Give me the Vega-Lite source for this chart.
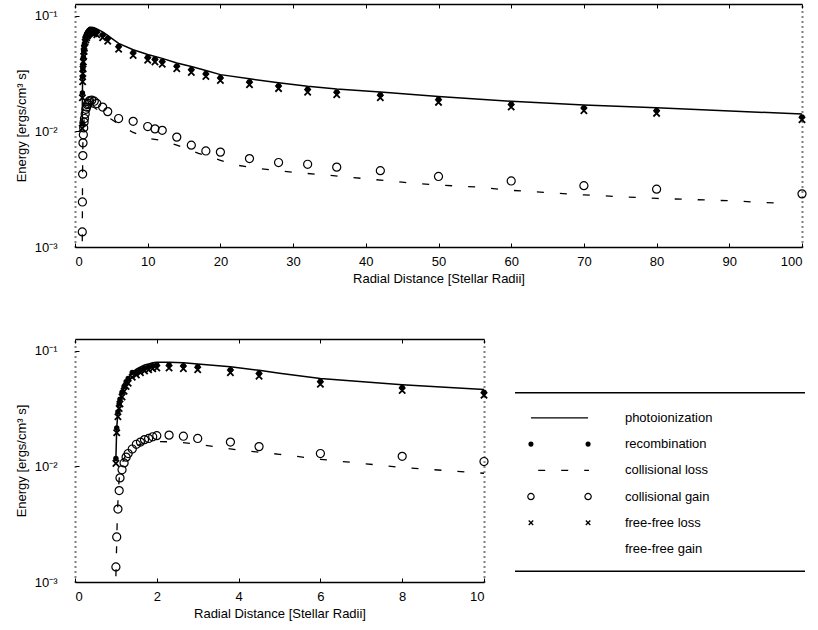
{
  "$schema": "https://vega.github.io/schema/vega-lite/v6.json",
  "background": "white",
  "padding": {"left": 15, "top": 3, "right": 5, "bottom": 5},
  "config": {
    "font": "Liberation Sans",
    "view": {"stroke": null},
    "axis": {"labelFontSize": 13, "titleFontSize": 13, "titleFontWeight": "normal", "labelColor": "black", "titleColor": "black", "domainColor": "black", "tickColor": "black", "grid": false, "labelFont": "Liberation Sans", "titleFont": "Liberation Sans"}
  },
  "datasets": {
    "photo": [
      {"r": 1.0, "e": 0.0117}, {"r": 1.02, "e": 0.0214}, {"r": 1.05, "e": 0.0295}, {"r": 1.08, "e": 0.0347},
      {"r": 1.1, "e": 0.038}, {"r": 1.15, "e": 0.0437}, {"r": 1.2, "e": 0.049}, {"r": 1.25, "e": 0.0537},
      {"r": 1.3, "e": 0.0575}, {"r": 1.4, "e": 0.0646}, {"r": 1.5, "e": 0.0692}, {"r": 1.6, "e": 0.0724},
      {"r": 1.7, "e": 0.075}, {"r": 1.8, "e": 0.0767}, {"r": 1.9, "e": 0.0785}, {"r": 2.0, "e": 0.0794},
      {"r": 2.3, "e": 0.0794}, {"r": 2.65, "e": 0.0785}, {"r": 3.0, "e": 0.0767}, {"r": 3.8, "e": 0.0724},
      {"r": 4.5, "e": 0.0676}, {"r": 5, "e": 0.0638}, {"r": 6, "e": 0.0575}, {"r": 8, "e": 0.0507},
      {"r": 10, "e": 0.0462}, {"r": 12, "e": 0.0427}, {"r": 14, "e": 0.0389}, {"r": 16, "e": 0.0363},
      {"r": 18, "e": 0.0335}, {"r": 20, "e": 0.0309}, {"r": 24, "e": 0.0284}, {"r": 28, "e": 0.0263},
      {"r": 32, "e": 0.0245}, {"r": 36, "e": 0.0232}, {"r": 42, "e": 0.0219}, {"r": 50, "e": 0.02},
      {"r": 60, "e": 0.0182}, {"r": 70, "e": 0.0169}, {"r": 80, "e": 0.016}, {"r": 100, "e": 0.0141}
    ],
    "closs": [
      {"r": 1.0, "e": 0.00112}, {"r": 1.03, "e": 0.00316}, {"r": 1.06, "e": 0.00631}, {"r": 1.1, "e": 0.00933},
      {"r": 1.2, "e": 0.0117}, {"r": 1.3, "e": 0.0135}, {"r": 1.5, "e": 0.0151}, {"r": 1.7, "e": 0.0158},
      {"r": 2.0, "e": 0.0164}, {"r": 2.5, "e": 0.0162}, {"r": 3.0, "e": 0.0155}, {"r": 4.0, "e": 0.0138},
      {"r": 5.0, "e": 0.0127}, {"r": 6.0, "e": 0.0115}, {"r": 7.0, "e": 0.0106}, {"r": 8.0, "e": 0.00977},
      {"r": 10, "e": 0.00871}, {"r": 12, "e": 0.00832}, {"r": 14, "e": 0.00759}, {"r": 17, "e": 0.00646},
      {"r": 20, "e": 0.00562}, {"r": 22, "e": 0.00513}, {"r": 25, "e": 0.00479}, {"r": 30, "e": 0.00442},
      {"r": 35, "e": 0.00417}, {"r": 40, "e": 0.00389}, {"r": 45, "e": 0.00363}, {"r": 50, "e": 0.00343},
      {"r": 55, "e": 0.00331}, {"r": 60, "e": 0.00309}, {"r": 70, "e": 0.00282}, {"r": 80, "e": 0.00263},
      {"r": 90, "e": 0.00251}, {"r": 98, "e": 0.00237}
    ],
    "markers": [
      {"r": 1.0, "recomb": 0.0117, "ffloss": 0.0106, "gain": 0.00135},
      {"r": 1.02, "recomb": 0.0214, "ffloss": 0.0195, "gain": 0.00245},
      {"r": 1.05, "recomb": 0.0295, "ffloss": 0.0268, "gain": 0.00427},
      {"r": 1.08, "recomb": 0.0347, "ffloss": 0.0316, "gain": 0.00617},
      {"r": 1.1, "recomb": 0.038, "ffloss": 0.0346, "gain": 0.00794},
      {"r": 1.15, "recomb": 0.0437, "ffloss": 0.0398, "gain": 0.00933},
      {"r": 1.2, "recomb": 0.049, "ffloss": 0.0446, "gain": 0.0107},
      {"r": 1.25, "recomb": 0.0537, "ffloss": 0.0489, "gain": 0.012},
      {"r": 1.3, "recomb": 0.0575, "ffloss": 0.0523, "gain": 0.0129},
      {"r": 1.4, "recomb": 0.0646, "ffloss": 0.0588, "gain": 0.0141},
      {"r": 1.5, "recomb": 0.0653, "ffloss": 0.0617, "gain": 0.0155},
      {"r": 1.6, "recomb": 0.0683, "ffloss": 0.0645, "gain": 0.0162},
      {"r": 1.7, "recomb": 0.0708, "ffloss": 0.0668, "gain": 0.017},
      {"r": 1.8, "recomb": 0.0724, "ffloss": 0.0683, "gain": 0.0174},
      {"r": 1.9, "recomb": 0.0741, "ffloss": 0.0699, "gain": 0.018},
      {"r": 2.0, "recomb": 0.075, "ffloss": 0.0707, "gain": 0.0184},
      {"r": 2.3, "recomb": 0.075, "ffloss": 0.0707, "gain": 0.0186},
      {"r": 2.65, "recomb": 0.0741, "ffloss": 0.0699, "gain": 0.0182},
      {"r": 3.0, "recomb": 0.0724, "ffloss": 0.0683, "gain": 0.0174},
      {"r": 3.8, "recomb": 0.0683, "ffloss": 0.0645, "gain": 0.0162},
      {"r": 4.5, "recomb": 0.0638, "ffloss": 0.0602, "gain": 0.0148},
      {"r": 6, "recomb": 0.0543, "ffloss": 0.0512, "gain": 0.0129},
      {"r": 8, "recomb": 0.0479, "ffloss": 0.0452, "gain": 0.0122},
      {"r": 10, "recomb": 0.0436, "ffloss": 0.0412, "gain": 0.011},
      {"r": 11, "recomb": 0.0422, "ffloss": 0.0398, "gain": 0.0105},
      {"r": 12, "recomb": 0.0403, "ffloss": 0.038, "gain": 0.0102},
      {"r": 14, "recomb": 0.0367, "ffloss": 0.0347, "gain": 0.00891},
      {"r": 16, "recomb": 0.0343, "ffloss": 0.0323, "gain": 0.00759},
      {"r": 18, "recomb": 0.0316, "ffloss": 0.0298, "gain": 0.00676},
      {"r": 20, "recomb": 0.0292, "ffloss": 0.0275, "gain": 0.00661},
      {"r": 24, "recomb": 0.0268, "ffloss": 0.0253, "gain": 0.00581},
      {"r": 28, "recomb": 0.0248, "ffloss": 0.0234, "gain": 0.00537},
      {"r": 32, "recomb": 0.0231, "ffloss": 0.0218, "gain": 0.00519},
      {"r": 36, "recomb": 0.0219, "ffloss": 0.0207, "gain": 0.0049},
      {"r": 42, "recomb": 0.0207, "ffloss": 0.0195, "gain": 0.00457},
      {"r": 50, "recomb": 0.0189, "ffloss": 0.0178, "gain": 0.00407},
      {"r": 60, "recomb": 0.0172, "ffloss": 0.0162, "gain": 0.00372},
      {"r": 70, "recomb": 0.016, "ffloss": 0.0151, "gain": 0.00339},
      {"r": 80, "recomb": 0.0151, "ffloss": 0.0143, "gain": 0.00316},
      {"r": 100, "recomb": 0.0133, "ffloss": 0.0126, "gain": 0.00288}
    ],
    "legend": [
      {"k": 1, "label": "photoionization"},
      {"k": 2, "label": "recombination"},
      {"k": 3, "label": "collisional loss"},
      {"k": 4, "label": "collisional gain"},
      {"k": 5, "label": "free-free loss"},
      {"k": 6, "label": "free-free gain"}
    ]
  },
  "spacing": 53,
  "vconcat": [
    {
      "width": 727,
      "height": 243,
      "layer": [
        {
          "data": {"name": "photo"},
          "mark": {"type": "line", "color": "black", "strokeWidth": 1.5},
          "encoding": {
            "x": {"field": "r", "type": "quantitative", "scale": {"domain": [0, 100], "nice": false}, "axis": {"orient": "bottom", "title": "Radial Distance [Stellar Radii]", "values": [0, 10, 20, 30, 40, 50, 60, 70, 80, 90, 100], "tickSize": -4, "domainWidth": 1.5, "labelPadding": 12, "titlePadding": 4}},
            "y": {"field": "e", "type": "quantitative", "scale": {"type": "log", "domain": [0.001, 0.126], "nice": false}, "axis": {"orient": "left", "title": "Energy [ergs/cm³ s]", "values": [0.001, 0.01, 0.1], "labelExpr": "datum.value == 0.1 ? '10⁻¹' : datum.value == 0.01 ? '10⁻²' : '10⁻³'", "domainDash": [1, 4], "domainWidth": 2, "tickSize": -4, "labelPadding": 22, "titlePadding": 6}}
          }
        },
        {
          "data": {"name": "closs"},
          "mark": {"type": "line", "color": "black", "strokeWidth": 1.3, "strokeDash": [7, 16]},
          "encoding": {
            "x": {"field": "r", "type": "quantitative", "scale": {"domain": [0, 100], "nice": false}, "axis": {"orient": "top", "labels": false, "title": null, "values": [0, 10, 20, 30, 40, 50, 60, 70, 80, 90, 100], "tickSize": -4, "domainWidth": 1.5}},
            "y": {"field": "e", "type": "quantitative", "scale": {"type": "log", "domain": [0.001, 0.126], "nice": false}, "axis": {"orient": "right", "labels": false, "title": null, "ticks": false, "domainDash": [1, 4], "domainWidth": 2}}
          }
        },
        {
          "data": {"name": "markers"},
          "mark": {"type": "point", "shape": "circle", "filled": true, "color": "black", "size": 30, "opacity": 1},
          "encoding": {
            "x": {"field": "r", "type": "quantitative", "scale": {"domain": [0, 100], "nice": false}, "axis": null},
            "y": {"field": "recomb", "type": "quantitative", "scale": {"type": "log", "domain": [0.001, 0.126], "nice": false}, "axis": null}
          }
        },
        {
          "data": {"name": "markers"},
          "mark": {"type": "point", "shape": "M-1,-1L1,1M-1,1L1,-1", "filled": false, "color": "black", "strokeWidth": 1.8, "size": 40, "opacity": 1},
          "encoding": {
            "x": {"field": "r", "type": "quantitative", "scale": {"domain": [0, 100], "nice": false}, "axis": null},
            "y": {"field": "ffloss", "type": "quantitative", "scale": {"type": "log", "domain": [0.001, 0.126], "nice": false}, "axis": null}
          }
        },
        {
          "data": {"name": "markers"},
          "mark": {"type": "point", "shape": "circle", "filled": false, "color": "black", "strokeWidth": 1.2, "size": 65, "opacity": 1},
          "encoding": {
            "x": {"field": "r", "type": "quantitative", "scale": {"domain": [0, 100], "nice": false}, "axis": null},
            "y": {"field": "gain", "type": "quantitative", "scale": {"type": "log", "domain": [0.001, 0.126], "nice": false}, "axis": null}
          }
        }
      ],
      "resolve": {"axis": {"x": "independent", "y": "independent"}}
    },
    {
      "spacing": 23,
      "hconcat": [
        {
          "width": 409,
          "height": 243,
          "layer": [
            {
              "data": {"name": "photo"},
              "transform": [{"filter": "datum.r <= 10"}],
              "mark": {"type": "line", "color": "black", "strokeWidth": 1.5},
              "encoding": {
                "x": {"field": "r", "type": "quantitative", "scale": {"domain": [0, 10], "nice": false}, "axis": {"orient": "bottom", "title": "Radial Distance [Stellar Radii]", "values": [0, 2, 4, 6, 8, 10], "tickSize": -4, "domainWidth": 1.5, "labelPadding": 12, "titlePadding": 4}},
                "y": {"field": "e", "type": "quantitative", "scale": {"type": "log", "domain": [0.001, 0.126], "nice": false}, "axis": {"orient": "left", "title": "Energy [ergs/cm³ s]", "values": [0.001, 0.01, 0.1], "labelExpr": "datum.value == 0.1 ? '10⁻¹' : datum.value == 0.01 ? '10⁻²' : '10⁻³'", "domainDash": [1, 4], "domainWidth": 2, "tickSize": -4, "labelPadding": 22, "titlePadding": 6}}
              }
            },
            {
              "data": {"name": "closs"},
              "transform": [{"filter": "datum.r <= 10"}],
              "mark": {"type": "line", "color": "black", "strokeWidth": 1.3, "strokeDash": [7, 16]},
              "encoding": {
                "x": {"field": "r", "type": "quantitative", "scale": {"domain": [0, 10], "nice": false}, "axis": {"orient": "top", "labels": false, "title": null, "values": [0, 2, 4, 6, 8, 10], "tickSize": -4, "domainWidth": 1.5}},
                "y": {"field": "e", "type": "quantitative", "scale": {"type": "log", "domain": [0.001, 0.126], "nice": false}, "axis": {"orient": "right", "labels": false, "title": null, "ticks": false, "domainDash": [1, 4], "domainWidth": 2}}
              }
            },
            {
              "data": {"name": "markers"},
              "transform": [{"filter": "datum.r <= 10"}],
              "mark": {"type": "point", "shape": "circle", "filled": true, "color": "black", "size": 30, "opacity": 1},
              "encoding": {
                "x": {"field": "r", "type": "quantitative", "scale": {"domain": [0, 10], "nice": false}, "axis": null},
                "y": {"field": "recomb", "type": "quantitative", "scale": {"type": "log", "domain": [0.001, 0.126], "nice": false}, "axis": null}
              }
            },
            {
              "data": {"name": "markers"},
              "transform": [{"filter": "datum.r <= 10"}],
              "mark": {"type": "point", "shape": "M-1,-1L1,1M-1,1L1,-1", "filled": false, "color": "black", "strokeWidth": 1.8, "size": 40, "opacity": 1},
              "encoding": {
                "x": {"field": "r", "type": "quantitative", "scale": {"domain": [0, 10], "nice": false}, "axis": null},
                "y": {"field": "ffloss", "type": "quantitative", "scale": {"type": "log", "domain": [0.001, 0.126], "nice": false}, "axis": null}
              }
            },
            {
              "data": {"name": "markers"},
              "transform": [{"filter": "datum.r <= 10"}],
              "mark": {"type": "point", "shape": "circle", "filled": false, "color": "black", "strokeWidth": 1.2, "size": 65, "opacity": 1},
              "encoding": {
                "x": {"field": "r", "type": "quantitative", "scale": {"domain": [0, 10], "nice": false}, "axis": null},
                "y": {"field": "gain", "type": "quantitative", "scale": {"type": "log", "domain": [0.001, 0.126], "nice": false}, "axis": null}
              }
            }
          ],
          "resolve": {"axis": {"x": "independent", "y": "independent"}}
        },
        {
          "width": 290,
          "height": 243,
          "data": {"name": "legend"},
          "layer": [
            {
              "mark": {"type": "text", "align": "left", "baseline": "middle", "fontSize": 13, "font": "Liberation Sans", "color": "black"},
              "encoding": {
                "x": {"datum": 3.79, "type": "quantitative", "scale": {"domain": [0, 10], "nice": false, "zero": false}, "axis": null},
                "y": {"field": "k", "type": "quantitative", "scale": {"domain": [-2.01, 7.26], "reverse": true, "nice": false, "zero": false}, "axis": null},
                "text": {"field": "label"}
              }
            },
            {
              "transform": [{"filter": "datum.k == 1"}],
              "mark": {"type": "rule", "color": "black", "strokeWidth": 1.5},
              "encoding": {
                "x": {"datum": 0, "type": "quantitative", "scale": {"domain": [0, 10], "nice": false, "zero": false}, "axis": null},
                "x2": {"datum": 10},
                "y": {"datum": 0.04, "type": "quantitative", "scale": {"domain": [-2.01, 7.26], "reverse": true, "nice": false, "zero": false}, "axis": null}
              }
            },
            {
              "transform": [{"filter": "datum.k == 1"}],
              "mark": {"type": "rule", "color": "black", "strokeWidth": 1.5},
              "encoding": {
                "x": {"datum": 0, "type": "quantitative", "scale": {"domain": [0, 10], "nice": false, "zero": false}, "axis": null},
                "x2": {"datum": 10},
                "y": {"datum": 6.85, "type": "quantitative", "scale": {"domain": [-2.01, 7.26], "reverse": true, "nice": false, "zero": false}, "axis": null}
              }
            },
            {
              "transform": [{"filter": "datum.k == 1"}],
              "mark": {"type": "rule", "color": "black", "strokeWidth": 1.3},
              "encoding": {
                "x": {"datum": 0.55, "type": "quantitative", "scale": {"domain": [0, 10], "nice": false, "zero": false}, "axis": null},
                "x2": {"datum": 2.52},
                "y": {"field": "k", "type": "quantitative", "scale": {"domain": [-2.01, 7.26], "reverse": true, "nice": false, "zero": false}, "axis": null}
              }
            },
            {
              "transform": [{"filter": "datum.k == 3"}],
              "mark": {"type": "rule", "color": "black", "strokeWidth": 1.3, "strokeDash": [7, 16]},
              "encoding": {
                "x": {"datum": 0.8, "type": "quantitative", "scale": {"domain": [0, 10], "nice": false, "zero": false}, "axis": null},
                "x2": {"datum": 2.55},
                "y": {"field": "k", "type": "quantitative", "scale": {"domain": [-2.01, 7.26], "reverse": true, "nice": false, "zero": false}, "axis": null}
              }
            },
            {
              "transform": [{"filter": "datum.k == 2"}],
              "mark": {"type": "point", "shape": "circle", "filled": true, "color": "black", "size": 26, "opacity": 1},
              "encoding": {
                "x": {"datum": 0.55, "type": "quantitative", "scale": {"domain": [0, 10], "nice": false, "zero": false}, "axis": null},
                "y": {"field": "k", "type": "quantitative", "scale": {"domain": [-2.01, 7.26], "reverse": true, "nice": false, "zero": false}, "axis": null}
              }
            },
            {
              "transform": [{"filter": "datum.k == 2"}],
              "mark": {"type": "point", "shape": "circle", "filled": true, "color": "black", "size": 26, "opacity": 1},
              "encoding": {
                "x": {"datum": 2.52, "type": "quantitative", "scale": {"domain": [0, 10], "nice": false, "zero": false}, "axis": null},
                "y": {"field": "k", "type": "quantitative", "scale": {"domain": [-2.01, 7.26], "reverse": true, "nice": false, "zero": false}, "axis": null}
              }
            },
            {
              "transform": [{"filter": "datum.k == 4"}],
              "mark": {"type": "point", "shape": "circle", "filled": false, "color": "black", "strokeWidth": 1.2, "size": 40, "opacity": 1},
              "encoding": {
                "x": {"datum": 0.55, "type": "quantitative", "scale": {"domain": [0, 10], "nice": false, "zero": false}, "axis": null},
                "y": {"field": "k", "type": "quantitative", "scale": {"domain": [-2.01, 7.26], "reverse": true, "nice": false, "zero": false}, "axis": null}
              }
            },
            {
              "transform": [{"filter": "datum.k == 4"}],
              "mark": {"type": "point", "shape": "circle", "filled": false, "color": "black", "strokeWidth": 1.2, "size": 40, "opacity": 1},
              "encoding": {
                "x": {"datum": 2.52, "type": "quantitative", "scale": {"domain": [0, 10], "nice": false, "zero": false}, "axis": null},
                "y": {"field": "k", "type": "quantitative", "scale": {"domain": [-2.01, 7.26], "reverse": true, "nice": false, "zero": false}, "axis": null}
              }
            },
            {
              "transform": [{"filter": "datum.k == 5"}],
              "mark": {"type": "point", "shape": "M-1,-1L1,1M-1,1L1,-1", "filled": false, "color": "black", "strokeWidth": 1.3, "size": 20, "opacity": 1},
              "encoding": {
                "x": {"datum": 0.55, "type": "quantitative", "scale": {"domain": [0, 10], "nice": false, "zero": false}, "axis": null},
                "y": {"field": "k", "type": "quantitative", "scale": {"domain": [-2.01, 7.26], "reverse": true, "nice": false, "zero": false}, "axis": null}
              }
            },
            {
              "transform": [{"filter": "datum.k == 5"}],
              "mark": {"type": "point", "shape": "M-1,-1L1,1M-1,1L1,-1", "filled": false, "color": "black", "strokeWidth": 1.3, "size": 20, "opacity": 1},
              "encoding": {
                "x": {"datum": 2.52, "type": "quantitative", "scale": {"domain": [0, 10], "nice": false, "zero": false}, "axis": null},
                "y": {"field": "k", "type": "quantitative", "scale": {"domain": [-2.01, 7.26], "reverse": true, "nice": false, "zero": false}, "axis": null}
              }
            }
          ]
        }
      ]
    }
  ]
}
